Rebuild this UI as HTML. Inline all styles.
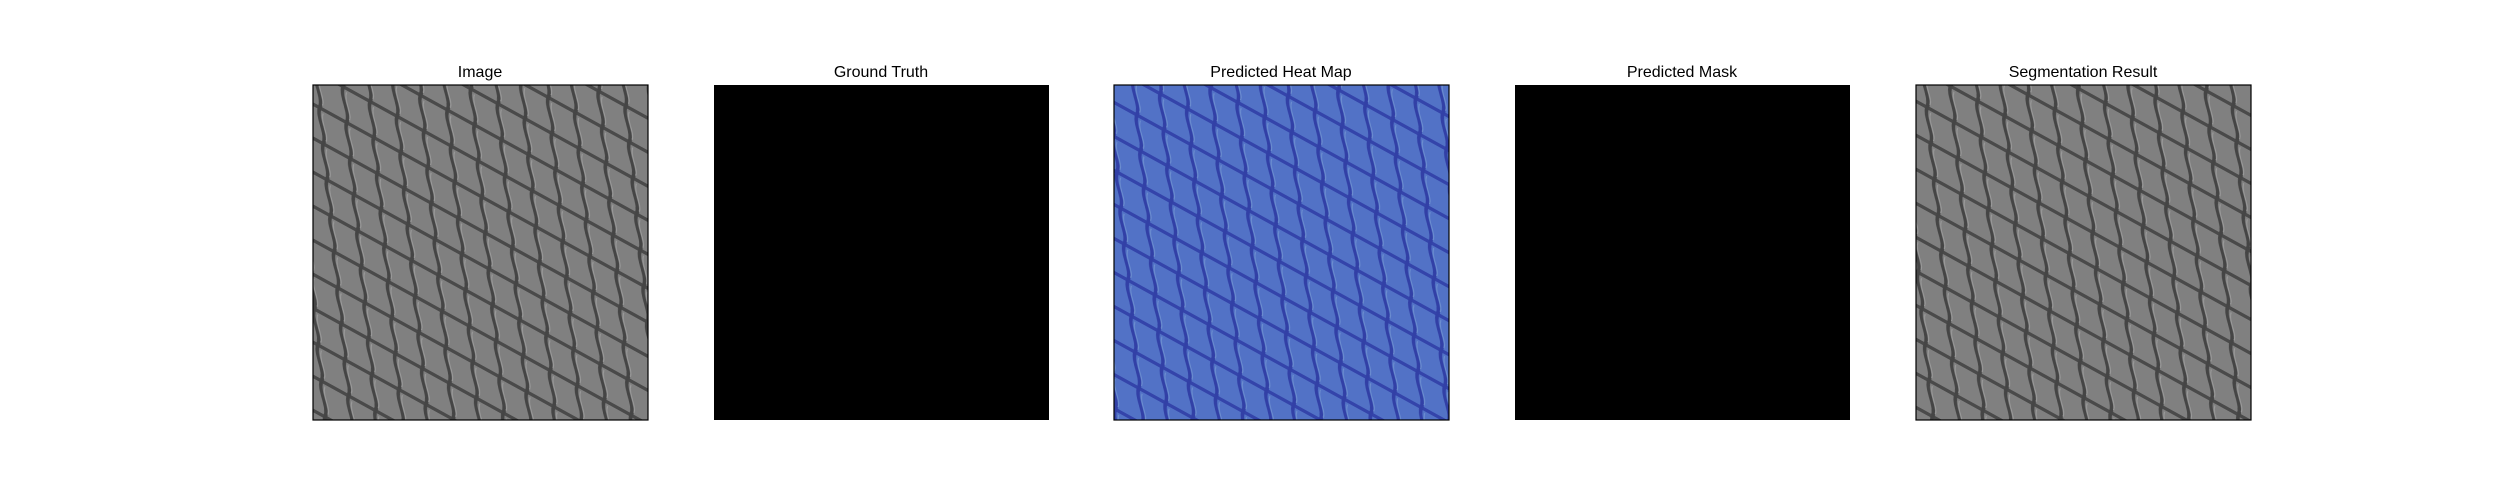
<!DOCTYPE html>
<html><head><meta charset="utf-8"><style>
html,body{margin:0;padding:0;background:#fff;width:2500px;height:500px;overflow:hidden;font-family:"Liberation Sans","DejaVu Sans",sans-serif}
svg{display:block}
</style></head><body>
<svg width="2500" height="500" viewBox="0 0 2500 500">
<defs>
<pattern id="mesh" width="27" height="36" patternUnits="userSpaceOnUse" patternTransform="matrix(1,0.55,0.1,1,0,0)">
<rect width="27" height="36" fill="#808080"/>
<path d="M0,0 L27,0 M0,36 L27,36" stroke="#4a4a4a" stroke-width="4"/>
<path d="M3,0 C-2,12 8,24 3,36" stroke="#454545" stroke-width="3.5" fill="none"/>
<path d="M30,0 C25,12 35,24 30,36" stroke="#454545" stroke-width="3.5" fill="none"/>
<path d="M6,4 C2,14 10,24 6,32" stroke="#9c9c9c" stroke-width="1" fill="none"/>
</pattern>
<pattern id="meshb" width="27" height="36" patternUnits="userSpaceOnUse" patternTransform="matrix(1,0.55,0.1,1,0,0)">
<rect width="27" height="36" fill="#5272c6"/>
<path d="M0,0 L27,0 M0,36 L27,36" stroke="#3444aa" stroke-width="4"/>
<path d="M3,0 C-2,12 8,24 3,36" stroke="#3240a6" stroke-width="3.5" fill="none"/>
<path d="M30,0 C25,12 35,24 30,36" stroke="#3240a6" stroke-width="3.5" fill="none"/>
<path d="M6,4 C2,14 10,24 6,32" stroke="#6e90d0" stroke-width="1" fill="none"/>
</pattern>
</defs>
<g>
<text x="480" y="77" font-size="16" text-anchor="middle" fill="#000">Image</text>
<rect x="313" y="85" width="335" height="335" fill="url(#mesh)" stroke="#000" stroke-width="1.2"/>
</g>
<g>
<text x="881" y="77" font-size="16" text-anchor="middle" fill="#000">Ground Truth</text>
<rect x="714" y="85" width="335" height="335" fill="#000"/>
</g>
<g>
<text x="1281" y="77" font-size="16" text-anchor="middle" fill="#000">Predicted Heat Map</text>
<rect x="1114" y="85" width="335" height="335" fill="url(#meshb)" stroke="#000" stroke-width="1.2"/>
</g>
<g>
<text x="1682" y="77" font-size="16" text-anchor="middle" fill="#000">Predicted Mask</text>
<rect x="1515" y="85" width="335" height="335" fill="#000"/>
</g>
<g>
<text x="2083" y="77" font-size="16" text-anchor="middle" fill="#000">Segmentation Result</text>
<rect x="1916" y="85" width="335" height="335" fill="url(#mesh)" stroke="#000" stroke-width="1.2"/>
</g>
</svg>
</body></html>
